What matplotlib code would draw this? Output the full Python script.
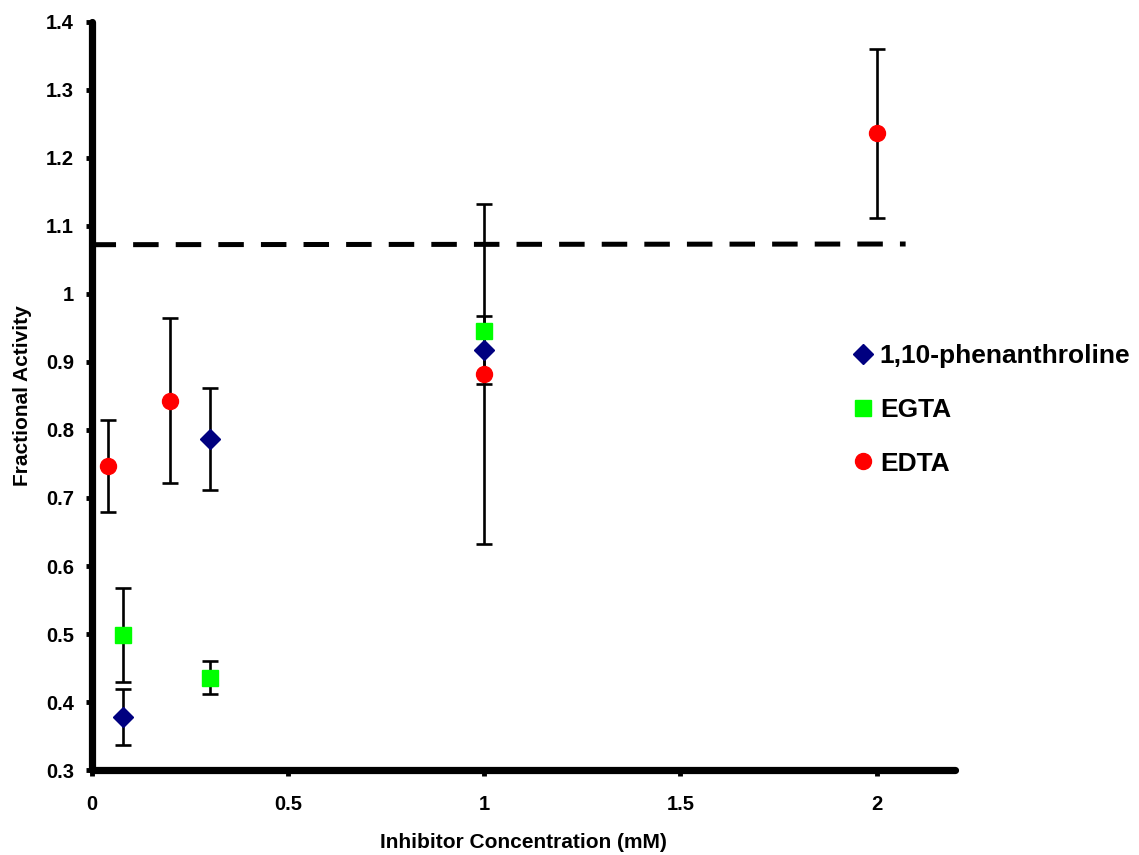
import numpy as np
import matplotlib.pyplot as plt

plt.rcParams['font.family'] = ['Liberation Sans', 'DejaVu Sans']
plt.rcParams['font.weight'] = 'bold'

# datos
phen_x = [0.08, 0.3, 1.0]
phen_y = [0.378, 0.787, 0.917]
phen_err = [0.041, 0.075, 0.050]

egta_x = [0.08, 0.3, 1.0]
egta_y = [0.499, 0.436, 0.945]
egta_err = [0.069, 0.024, 0.0]

edta_x = [0.04, 0.2, 1.0, 2.0]
edta_y = [0.747, 0.843, 0.883, 1.236]
edta_err = [0.068, 0.121, 0.250, 0.124]

# linea discontinua
dash_x = [0.0, 2.074]
dash_y = [1.0725, 1.0735]

fig = plt.figure(figsize=(11.39, 8.55), dpi=100)
ax = fig.add_axes([0.0808, 0.0994, 0.7577, 0.8749])

err_kw = dict(fmt='none', ecolor='black', elinewidth=1.9, capsize=5.8, capthick=1.9, zorder=2)
ax.errorbar(phen_x, phen_y, yerr=phen_err, **err_kw)
ax.errorbar(egta_x, egta_y, yerr=egta_err, **err_kw)
ax.errorbar(edta_x, edta_y, yerr=edta_err, **err_kw)

ax.plot(dash_x, dash_y, color='black', lw=3.6, linestyle=(0.3, (5.1, 3.42)), zorder=1)

ax.plot(phen_x, phen_y, 'D', color='#000080', ms=10, mec='#000080', zorder=3, label='1,10-phenanthroline')
ax.plot(egta_x, egta_y, 's', color='#00FF00', ms=12, mec='#00FF00', zorder=3, label='EGTA')
ax.plot(edta_x, edta_y, 'o', color='#FF0000', ms=11.5, mec='#FF0000', zorder=3, label='EDTA')

ax.set_xlim(0, 2.2)
ax.set_ylim(0.3, 1.4)
ax.set_xticks([0, 0.5, 1, 1.5, 2])
ax.set_xticklabels(['0', '0.5', '1', '1.5', '2'])
ax.set_yticks(np.arange(0.3, 1.41, 0.1))
ax.set_yticklabels(['0.3', '0.4', '0.5', '0.6', '0.7', '0.8', '0.9', '1', '1.1', '1.2', '1.3', '1.4'])

for s in ['top', 'right']:
    ax.spines[s].set_visible(False)
for s in ['left', 'bottom']:
    ax.spines[s].set_linewidth(5.2)
    ax.spines[s].set_capstyle('round')
ax.tick_params(direction='out', length=4, width=3.5, labelsize=14.5)
ax.tick_params(axis='x', pad=14)
ax.tick_params(axis='y', pad=9)

ax.set_xlabel('Inhibitor Concentration (mM)', fontsize=15, fontweight='bold', labelpad=14)
ax.set_ylabel('Fractional Activity', fontsize=15, fontweight='bold', labelpad=10)

leg = fig.legend(loc='center left', bbox_to_anchor=(0.740, 0.5205), frameon=False,
                 fontsize=19, handlelength=0.7, handletextpad=0.3, labelspacing=1.12,
                 borderaxespad=0)
for t in leg.get_texts():
    t.set_fontweight('bold')

fig.savefig('out.png', dpi=100)
